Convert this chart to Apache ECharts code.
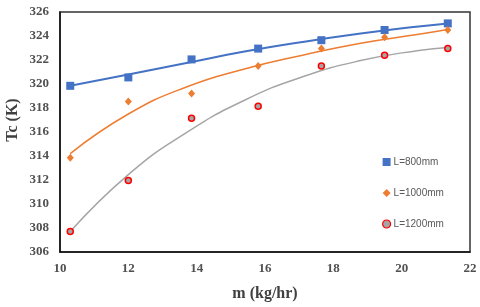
<!DOCTYPE html>
<html><head><meta charset="utf-8">
<script src="https://cdn.jsdelivr.net/npm/echarts@6/dist/echarts.min.js"></script>
<style>html,body{margin:0;padding:0;background:#fff}#c{width:480px;height:307px}</style>
</head><body><div id="c"></div>
<script>
// measured points
const mass = [10.3, 12, 13.85, 15.8, 17.65, 19.5, 21.35];
const tc800 = [319.85, 320.55, 322.05, 322.95, 323.65, 324.5, 325.05];
const tc1000 = [313.85, 318.55, 319.2, 321.5, 322.95, 323.9, 324.5];
const tc1200 = [307.7, 311.95, 317.15, 318.15, 321.5, 322.4, 322.95];
// trend lines
const trendX = [10.3, 12, 13.7, 15.4, 17.1, 18.8, 20.5, 21.35];
const trend800 = [319.85, 320.8, 321.75, 322.7, 323.5, 324.2, 324.8, 325.05];
const trend1000 = [314.2, 317.5, 319.75, 321.25, 322.4, 323.4, 324.15, 324.55];
const trend1200 = [307.7, 312.45, 315.95, 318.65, 320.6, 321.95, 322.8, 323.05];
const seriesNames = ['L=800mm', 'L=1000mm', 'L=1200mm'];
const xTicks = [10, 12, 14, 16, 18, 20, 22];
const yTicks = [306, 308, 310, 312, 314, 316, 318, 320, 322, 324, 326];

const zip = (xs, ys) => xs.map((x, i) => [x, ys[i]]);
const blue = '#4472C4', orange = '#ED7D31', gray = '#A5A5A5', red = '#FF0000';
const labelFont = {fontFamily: 'Liberation Serif', fontWeight: 'bold', fontSize: 13, color: '#505050'};

const chart = echarts.init(document.getElementById('c'), null, {renderer: 'canvas'});
chart.setOption({
  animation: false,
  backgroundColor: '#fff',
  grid: {left: 60, right: 10, top: 12, bottom: 49, show: true, borderColor: '#333', borderWidth: 1.5, backgroundColor: 'transparent'},
  xAxis: {
    type: 'value', min: xTicks[0], max: xTicks[xTicks.length - 1], interval: 2,
    name: 'm (kg/hr)', nameLocation: 'middle', nameGap: 34,
    nameTextStyle: {fontFamily: 'Liberation Serif', fontWeight: 'bold', fontSize: 16, color: '#404040'},
    axisLine: {lineStyle: {color: '#111', width: 1.5}},
    axisTick: {show: false}, splitLine: {show: false},
    axisLabel: Object.assign({margin: 10}, labelFont)
  },
  yAxis: {
    type: 'value', min: yTicks[0], max: yTicks[yTicks.length - 1], interval: 2,
    axisLine: {show: true, lineStyle: {color: '#111', width: 1.5}},
    axisTick: {show: false}, splitLine: {show: false},
    axisLabel: Object.assign({margin: 11}, labelFont)
  },
  graphic: [{
    type: 'text', x: 13, y: 120, rotation: Math.PI / 2,
    style: {text: 'Tc (K)', fontFamily: 'Liberation Serif', fontWeight: 'bold', fontSize: 16, fill: '#404040', align: 'center', verticalAlign: 'middle'}
  }],
  legend: {
    orient: 'vertical', left: 377, top: 152, itemGap: 21, itemWidth: 8, itemHeight: 8,
    textStyle: {fontFamily: 'Liberation Sans', fontSize: 10, color: '#595959', padding: [0, 0, 0, -2]},
    data: [
      {name: seriesNames[0], icon: 'rect'},
      {name: seriesNames[1], icon: 'diamond'},
      {name: seriesNames[2], icon: 'circle', itemStyle: {borderWidth: 1.2}}
    ]
  },
  series: [
    {name: 't800', type: 'line', smooth: 0.5, symbol: 'none', data: zip(trendX, trend800), lineStyle: {color: blue, width: 2}, z: 2},
    {name: 't1000', type: 'line', smooth: 0.5, symbol: 'none', data: zip(trendX, trend1000), lineStyle: {color: orange, width: 1.5}, z: 2},
    {name: 't1200', type: 'line', smooth: 0.5, symbol: 'none', data: zip(trendX, trend1200), lineStyle: {color: gray, width: 1.5}, z: 2},
    {name: seriesNames[0], type: 'scatter', symbol: 'rect', symbolSize: 8, data: zip(mass, tc800), itemStyle: {color: blue, opacity: 1}, z: 3},
    {name: seriesNames[1], type: 'scatter', symbol: 'diamond', symbolSize: [7, 8], data: zip(mass, tc1000), itemStyle: {color: orange, opacity: 1}, z: 3},
    {name: seriesNames[2], type: 'scatter', symbol: 'circle', symbolSize: 6, data: zip(mass, tc1200), itemStyle: {color: gray, borderColor: red, borderWidth: 1.5, opacity: 1}, z: 3}
  ]
});
</script></body></html>
